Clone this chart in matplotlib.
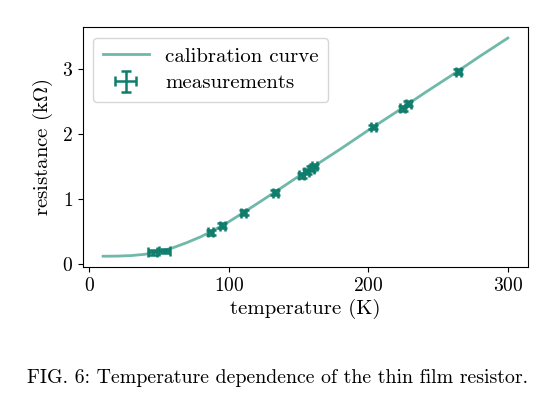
import matplotlib
matplotlib.use("Agg")
import matplotlib.pyplot as plt

plt.rcParams['font.family'] = ['cmr10', 'DejaVu Serif']
plt.rcParams['mathtext.fontset'] = 'cm'
plt.rcParams['axes.formatter.use_mathtext'] = True

# calibration curve
curve_T = [10, 20, 30, 40, 50, 60, 70, 80, 90, 100, 110, 120, 130, 140, 150,
           160, 180, 200, 220, 240, 260, 280, 300]
curve_R = [0.12, 0.122, 0.13, 0.15, 0.19, 0.25, 0.33, 0.42, 0.53, 0.65, 0.785,
           0.925, 1.065, 1.206, 1.35, 1.49, 1.77, 2.06, 2.34, 2.63, 2.91, 3.20, 3.48]

# measurements
meas_T = [45.5, 54.0, 87.0, 95.3, 110.7, 133.4, 152.4, 156.0, 159.0, 161.4,
          203.6, 224.6, 228.6, 264.3]
meas_R = [0.18, 0.20, 0.49, 0.59, 0.79, 1.10, 1.37, 1.42, 1.47, 1.51,
          2.11, 2.40, 2.47, 2.96]
meas_Terr = [3.4, 3.8, 1.8, 1.8, 1.8, 1.8, 1.8, 1.8, 1.8, 1.8, 1.8, 1.8, 1.8, 1.8]
meas_Rerr = [0.035, 0.035, 0.038, 0.038, 0.038, 0.038, 0.038, 0.038, 0.038, 0.038,
             0.038, 0.038, 0.038, 0.038]

xticks = [0, 100, 200, 300]
yticks = [0, 1, 2, 3]

fig = plt.figure(figsize=(5.6, 4.11), dpi=100)
ax = fig.add_axes([0.148, 0.350, 0.795, 0.584])

ax.plot(curve_T, curve_R, color='#6fb8aa', lw=2, label='calibration curve', zorder=2)
ax.errorbar(meas_T, meas_R, xerr=meas_Terr, yerr=meas_Rerr, fmt='none',
            ecolor='#0f7d6c', elinewidth=1.8, capsize=3.5, capthick=1.8,
            label='measurements', zorder=3)

ax.set_xticks(xticks)
ax.set_yticks(yticks)
ax.tick_params(labelsize=14)
ax.set_xlabel('temperature (K)', fontsize=15, labelpad=3)
ax.set_ylabel(r'resistance (k$\Omega$)', fontsize=15, labelpad=5)

ax.legend(loc='upper left', fontsize=15, handlelength=2.2, borderpad=0.45,
          labelspacing=0.4, handletextpad=0.8)

fig.text(0.496, 0.080, 'FIG. 6: Temperature dependence of the thin film resistor.',
         ha='center', va='center', fontsize=14.3)

fig.savefig('out.png', dpi=100)
